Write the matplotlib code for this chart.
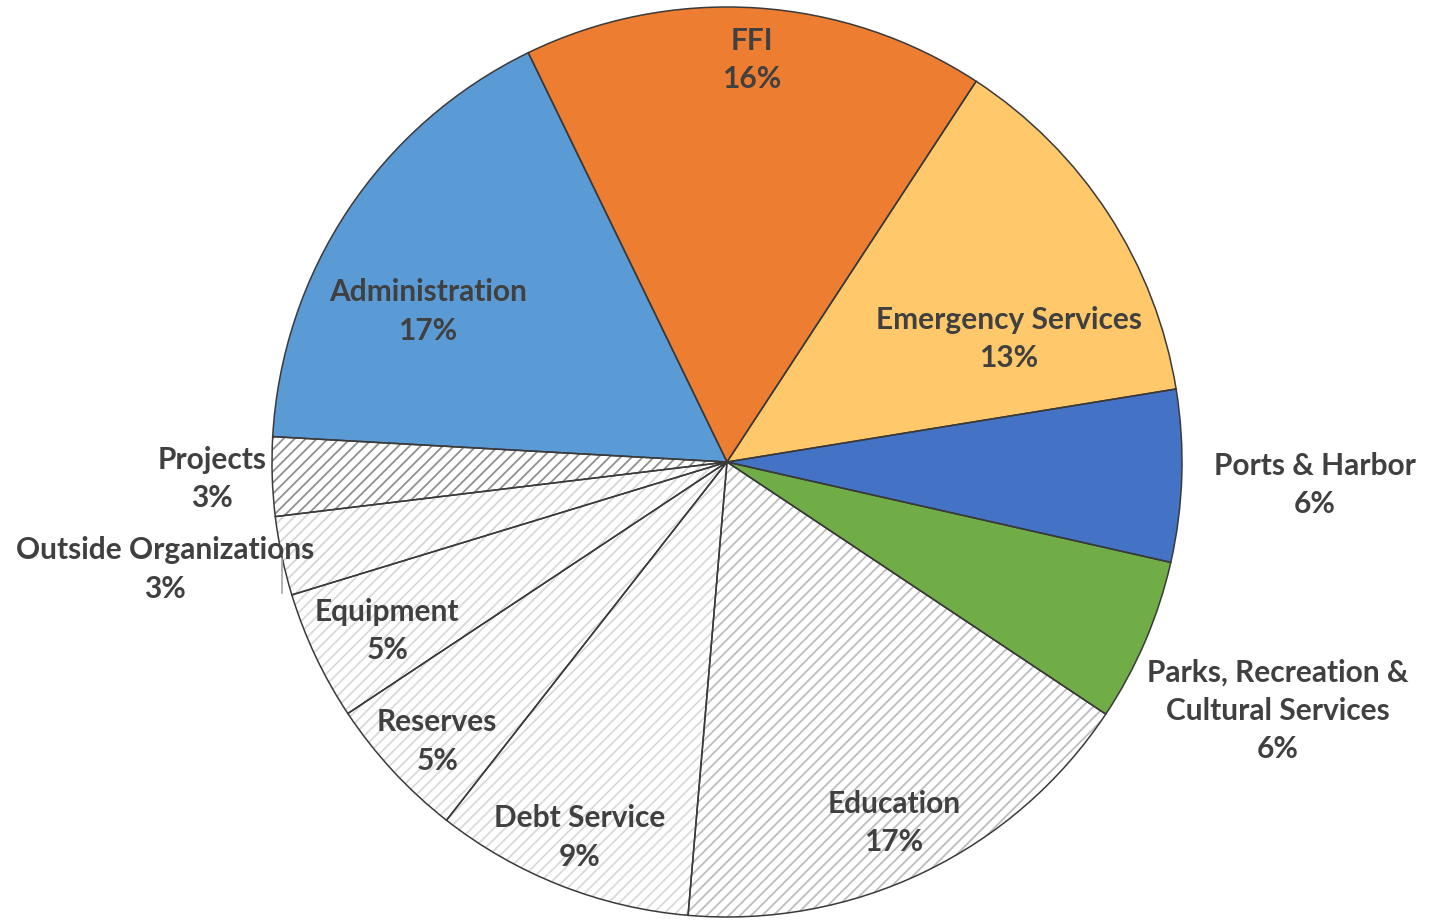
import matplotlib.pyplot as plt
import numpy as np

# budget shares by department, clockwise from the top
categories = ["FFI", "Emergency Services", "Ports & Harbor",
              "Parks, Recreation &\nCultural Services", "Education", "Debt Service",
              "Reserves", "Equipment", "Outside Organizations", "Projects",
              "Administration"]
values = [16.4, 13.2, 6.1, 5.8, 17.0, 9.2, 5.1, 4.6, 2.8, 2.8, 16.9]

fills = ["#ED7D31", "#FFC96B", "#4472C4", "#70AD47", "white", "white",
         "white", "white", "white", "white", "#5B9BD5"]
hatch_colors = [None, None, None, None, "#BDBDBD", "#DADADA",
                "#DADADA", "#DADADA", "#D6D6D6", "#909090", None]

# label block centres, in units of the pie radius from the centre
label_offsets = [(0.055, 0.884), (0.620, 0.270), (1.292, -0.051), (1.211, -0.547),
                 (0.367, -0.794), (-0.323, -0.825), (-0.637, -0.614),
                 (-0.747, -0.372), (-1.235, -0.236), (-1.132, -0.038),
                 (-0.657, 0.331)]

plt.rcParams['font.family'] = ['Lato', 'DejaVu Sans']
plt.rcParams['hatch.linewidth'] = 1.3

W, H = 1429, 921
fig = plt.figure(figsize=(W / 100, H / 100), dpi=100)
ax = fig.add_axes([0, 0, 1, 1])

cx, cy, R = 727, H - 462, 455
start = 115.9

# hatched fill layer (hatch takes the edge colour)
wedges, _ = ax.pie(values, radius=R, center=(cx, cy), startangle=start,
                   counterclock=False, colors=fills, frame=True)
for w, hc in zip(wedges, hatch_colors):
    w.set_linewidth(0)
    if hc is not None:
        w.set_hatch("///")
        w.set_edgecolor(hc)

# outline layer on top
outl, _ = ax.pie(values, radius=R, center=(cx, cy), startangle=start,
                 counterclock=False, frame=True,
                 wedgeprops=dict(fill=False, edgecolor="#3A3A3A", linewidth=1.1))

ax.set_xlim(0, W)
ax.set_ylim(0, H)
ax.set_aspect('equal')
ax.axis('off')

total = sum(values)
for name, v, (ox, oy) in zip(categories, values, label_offsets):
    pct = round(v / total * 100)
    ax.text(cx + ox * R, cy + oy * R, f"{name}\n{pct}%", ha="center", va="center",
            fontsize=21.5, fontweight="bold", color="#404040", linespacing=1.45)

# short leader line for the outside-organizations label
i = categories.index("Outside Organizations")
lx, ly = cx - 0.977 * R, cy + label_offsets[i][1] * R
ax.plot([lx, lx], [ly + 10, ly - 24], color="#A6A6A6", lw=1.2)

fig.savefig("out.png", dpi=100)
